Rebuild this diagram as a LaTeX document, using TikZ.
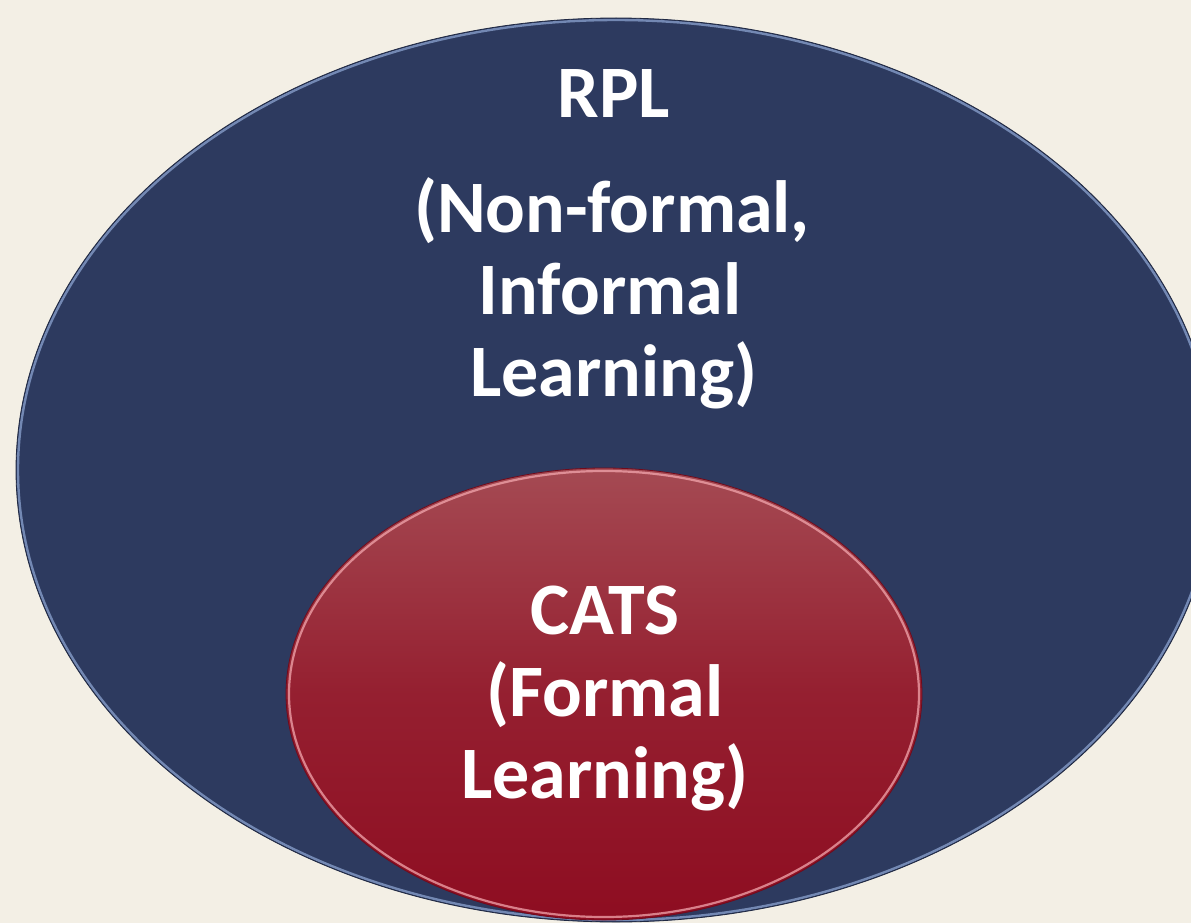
\documentclass[tikz,border=0pt]{standalone}
\usepackage{fontspec}
\setmainfont{Carlito}
\definecolor{bgc}{HTML}{F3EFE5}
\definecolor{navy}{HTML}{2D3A5F}
\definecolor{navyrim}{HTML}{8096C2}
\definecolor{redtop}{HTML}{A54A53}
\definecolor{redbot}{HTML}{8E0D21}
\definecolor{redrim}{HTML}{F2A6AD}
\tikzset{
  txt/.style={font=\fontsize{74pt}{88pt}\selectfont\bfseries, text=white, anchor=base, inner sep=0pt},
}
\begin{document}
\begin{tikzpicture}[x=1pt,y=-1pt]
  \useasboundingbox (0,0) rectangle (1191,923);
  \fill[bgc] (0,0) rectangle (1191,923);
  \clip (0,0) rectangle (1191,923);
  % outer ellipse (RPL)
  \fill[navy] (616,470) ellipse [x radius=600pt, y radius=452pt];
  \draw[navyrim, line width=2.4pt, opacity=0.85] (616,470) ellipse [x radius=598pt, y radius=450pt];
  \draw[navy!70!black, line width=0.8pt] (616,470) ellipse [x radius=600pt, y radius=452pt];
  % inner ellipse (CATS)
  \shade[top color=redtop, bottom color=redbot, middle color=redbot!70!redtop] (604,694) ellipse [x radius=318pt, y radius=226pt];
  \draw[redrim, line width=2.2pt, opacity=0.75] (604,694) ellipse [x radius=315pt, y radius=223pt];
  \draw[redbot!80!black, line width=0.8pt] (604,694) ellipse [x radius=318pt, y radius=226pt];
  % texts
  \node[txt] (rpl)  at (614,118) {RPL};
  \node[txt] (rplb) at (612,232) {(Non-formal,};
  \node[txt] (rplc) at (610,314) {Informal};
  \node[txt] (rpld) at (614,396) {Learning)};
  \node[txt] (cats)  at (605,634) {CATS};
  \node[txt] (catsb) at (605,716) {(Formal};
  \node[txt] (catsc) at (605,798) {Learning)};
\end{tikzpicture}
\end{document}
